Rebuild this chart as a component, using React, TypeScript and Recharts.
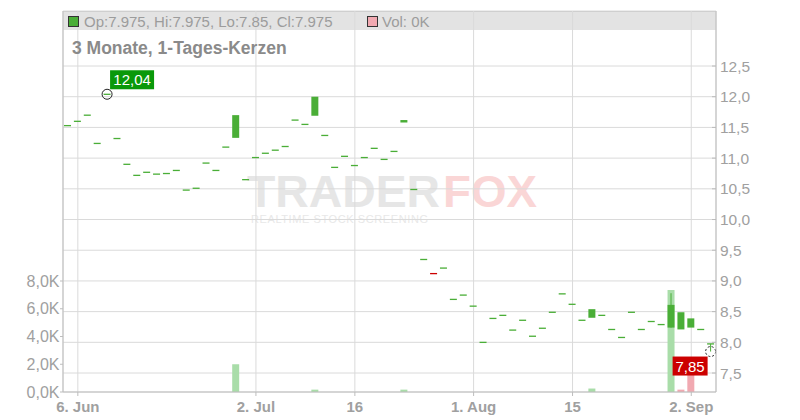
import React from "react"
import { ComposedChart, Bar, Cell, XAxis, YAxis, CartesianGrid } from "recharts"

// trading days shown on the chart
const dates = [
  "2024-06-05", "2024-06-06", "2024-06-07", "2024-06-10", "2024-06-11", "2024-06-12", "2024-06-13", "2024-06-14",
  "2024-06-17", "2024-06-18", "2024-06-19", "2024-06-20", "2024-06-21", "2024-06-24", "2024-06-25", "2024-06-26",
  "2024-06-27", "2024-06-28", "2024-07-01", "2024-07-02", "2024-07-03", "2024-07-04", "2024-07-05", "2024-07-08",
  "2024-07-09", "2024-07-10", "2024-07-11", "2024-07-12", "2024-07-15", "2024-07-16", "2024-07-17", "2024-07-18",
  "2024-07-19", "2024-07-22", "2024-07-23", "2024-07-24", "2024-07-25", "2024-07-26", "2024-07-29", "2024-07-30",
  "2024-07-31", "2024-08-01", "2024-08-02", "2024-08-05", "2024-08-06", "2024-08-07", "2024-08-08", "2024-08-09",
  "2024-08-12", "2024-08-13", "2024-08-14", "2024-08-15", "2024-08-16", "2024-08-19", "2024-08-20", "2024-08-21",
  "2024-08-22", "2024-08-23", "2024-08-26", "2024-08-27", "2024-08-28", "2024-08-29", "2024-08-30", "2024-09-02",
  "2024-09-03", "2024-09-04",
]

const closes = [
  11.53, 11.6, 11.7, 11.24, 12.04, 11.32, 10.9, 10.72, 10.77, 10.74,
  10.75, 10.8, 10.48, 10.51, 10.92, 10.8, 11.18, 11.7, 10.65, 11.01,
  11.08, 11.13, 11.19, 11.62, 11.55, 12.0, 11.37, 10.85, 11.03, 10.88,
  11.01, 11.16, 10.98, 11.11, 11.62, 10.49, 9.35, 9.11, 9.21, 8.7,
  8.77, 8.59, 8.0, 8.39, 8.44, 8.2, 8.36, 8.1, 8.23, 8.49,
  8.79, 8.62, 8.36, 8.54, 8.44, 8.21, 8.08, 8.49, 8.21, 8.34,
  8.29, 8.61, 8.49, 8.39, 8.21, 7.975,
]

// [day index, open, high, low] where the day is not flat
const candleDays = [
  [17, 11.33, 11.7, 11.33],
  [25, 11.69, 12.0, 11.69],
  [34, 11.58, 11.62, 11.58],
  [37, 9.12, 9.12, 9.11],
  [53, 8.4, 8.54, 8.4],
  [61, 8.24, 8.8, 8.24],
  [62, 8.21, 8.49, 8.21],
  [63, 8.24, 8.39, 8.24],
  [65, 7.975, 7.975, 7.85],
]

// volume in thousands
const volumes = [
  0, 0, 0, 0, 0, 0, 0, 0, 0, 0,
  0, 0, 0, 0, 0, 0, 0, 2.0, 0, 0,
  0, 0, 0, 0, 0, 0.17, 0, 0, 0, 0,
  0, 0, 0, 0, 0.17, 0, 0, 0, 0, 0,
  0, 0, 0, 0, 0, 0, 0, 0, 0, 0,
  0, 0, 0, 0.25, 0, 0, 0, 0, 0, 0,
  0, 7.35, 0.17, 2.2, 0, 0,
]

const tickDates = ["2024-06-06", "2024-07-02", "2024-07-16", "2024-08-01", "2024-08-15", "2024-09-02"]
const tickLabels = ["6. Jun", "2. Jul", "16", "1. Aug", "15", "2. Sep"]
const priceTicks = [7.5, 8, 8.5, 9, 9.5, 10, 10.5, 11, 11.5, 12, 12.5]
const volTicks = [0, 2, 4, 6, 8]

const PRICE_MIN = 7.191
const PRICE_MAX = 13.396
const VOL_MAX = 27.46

const GREEN = "#4aae37"
const RED = "#cc0000"
const VOL_UP = "#a9dda9"
const VOL_DOWN = "#f1a9b1"
const LABEL = "#a0a0a0"
const FONT = "'Liberation Sans', Arial, sans-serif"

const data = dates.map((date, i) => {
  const c = candleDays.find((d) => d[0] === i)
  const close = closes[i]
  const open = c ? c[1] : close
  const high = c ? c[2] : close
  const low = c ? c[3] : close
  const prev = i > 0 ? closes[i - 1] : close
  return { date, i, open, high, low, close, vol: volumes[i], volUp: close >= prev }
})
const maxHigh = Math.max(...data.map((d) => d.high))
const minLow = Math.min(...data.map((d) => d.low))
const maxIdx = data.findIndex((d) => d.high === maxHigh)
const minIdx = data.findIndex((d) => d.low === minLow)
const tickIdx = tickDates.map((d) => dates.indexOf(d))

const fmt = (v: number, digits: number) => v.toFixed(digits).replace(".", ",")

function Candle(props: any) {
  const { x, y, width, height, payload: p } = props
  if (!p || !height) return null
  const k = height / (p.high - PRICE_MIN)
  const py = (v: number) => y + (p.high - v) * k
  const cx = x + width / 2
  const color = p.close < p.open ? RED : GREEN
  const top = py(Math.max(p.open, p.close))
  const bot = py(Math.min(p.open, p.close))
  const h = bot - top
  const hasWick = p.high > Math.max(p.open, p.close) || p.low < Math.min(p.open, p.close)
  return (
    <g>
      {hasWick && <line x1={cx} x2={cx} y1={py(p.high)} y2={py(p.low)} stroke={color} strokeWidth={1} />}
      {h < 1.3 ? (
        <rect x={x} y={top - 0.6} width={width} height={1.3} fill={color} />
      ) : (
        <rect x={x} y={top} width={width} height={h} fill={color} />
      )}
      {p.i === maxIdx && (
        <g>
          <circle cx={cx} cy={py(p.high)} r={5} fill="none" stroke="#222" strokeWidth={1} />
          <rect x={cx + 3} y={py(p.high) - 24} width={44} height={19} fill="#0a990a" />
          <text x={cx + 25} y={py(p.high) - 9} textAnchor="middle" fontSize={15} fill="#fff" fontFamily={FONT}>
            {fmt(p.high, 2)}
          </text>
        </g>
      )}
      {p.i === minIdx && (
        <g>
          <circle cx={cx} cy={py(p.low)} r={5} fill="none" stroke="#222" strokeWidth={1} strokeDasharray="2 2" />
          <rect x={cx - 38} y={py(p.low) + 5} width={35} height={19} fill={RED} />
          <text x={cx - 20.5} y={py(p.low) + 20} textAnchor="middle" fontSize={15} fill="#fff" fontFamily={FONT}>
            {fmt(p.low, 2)}
          </text>
        </g>
      )}
    </g>
  )
}

const PriceTick = ({ x, y, payload }: any) => (
  <g>
    <line x1={x - 8} x2={x - 4} y1={y} y2={y} stroke="#bbb" />
    <text x={x} y={y + 5.5} fontSize={15.5} fill={LABEL} fontFamily={FONT}>
      {fmt(payload.value, 1)}
    </text>
  </g>
)

const VolTick = ({ x, y, payload }: any) => (
  <text x={x - 0.5} y={y + 5.7} textAnchor="end" fontSize={16} fill={LABEL} fontFamily={FONT}>
    {fmt(payload.value, 1) + "K"}
  </text>
)

export default function App() {
  return (
    <div style={{ position: "absolute", left: 0, top: 0, width: 800, height: 420, fontFamily: FONT }}>
      <svg width={800} height={420} style={{ position: "absolute", left: 0, top: 0 }}>
        <rect x={63} y={11} width={653} height={19} fill="#e3e3e3" />
        <line x1={63} x2={716} y1={11.5} y2={11.5} stroke="#c4c4c4" />
        <text x={247} y={207} fontSize={45} fontWeight="bold" fill="#e6e6e6" fontFamily={FONT}
          textLength={193} lengthAdjust="spacingAndGlyphs">
          TRADER
        </text>
        <text x={443} y={207} fontSize={45} fontWeight="bold" fill="#fad6d6" fontFamily={FONT}
          textLength={94} lengthAdjust="spacingAndGlyphs">
          FOX
        </text>
        <text x={251} y={223} fontSize={11} fill="#e8e8e8" fontFamily={FONT}
          textLength={177} lengthAdjust="spacing">
          REALTIME STOCK SCREENING
        </text>
      </svg>
      <div style={{ position: "absolute", left: 0, top: 0 }}>
        <ComposedChart width={800} height={420} data={data} margin={{ top: 11, right: 0, bottom: 0, left: 0 }}>
          <XAxis
            xAxisId="num"
            dataKey="i"
            type="number"
            domain={[-0.5, 65.5]}
            ticks={tickIdx}
            interval={0}
            height={28}
            tickSize={4}
            tickMargin={5}
            stroke="#bdbdbd"
            tick={{ fontSize: 15, fontWeight: "bold", fill: LABEL }}
            tickFormatter={(v: number) => tickLabels[tickIdx.indexOf(v)] ?? ""}
          />
          <XAxis xAxisId="cv" dataKey="date" type="category" hide height={0} />
          <XAxis xAxisId="cp" dataKey="date" type="category" hide height={0} />
          <YAxis
            yAxisId="vol"
            orientation="left"
            width={63}
            type="number"
            domain={[0, VOL_MAX]}
            allowDataOverflow
            ticks={volTicks}
            interval={0}
            tickSize={3}
            tickMargin={0}
            stroke="#bdbdbd"
            tick={<VolTick />}
          />
          <YAxis
            yAxisId="price"
            orientation="right"
            width={84}
            type="number"
            domain={[PRICE_MIN, PRICE_MAX]}
            allowDataOverflow
            ticks={priceTicks}
            interval={0}
            tickSize={0}
            tickMargin={4}
            tickLine={false}
            stroke="#bdbdbd"
            tick={<PriceTick />}
          />
          <CartesianGrid xAxisId="num" yAxisId="price" stroke="#dadada" />
          <Bar xAxisId="cv" yAxisId="vol" dataKey="vol" barSize={7} isAnimationActive={false}>
            {data.map((d) => (
              <Cell key={d.date} fill={d.volUp ? VOL_UP : VOL_DOWN} />
            ))}
          </Bar>
          <Bar
            xAxisId="cp"
            yAxisId="price"
            dataKey={(d: any) => [PRICE_MIN, d.high]}
            barSize={7}
            shape={<Candle />}
            isAnimationActive={false}
          />
        </ComposedChart>
      </div>
      <svg width={800} height={420} style={{ position: "absolute", left: 0, top: 0, pointerEvents: "none" }}>
        <rect x={68.5} y={16.5} width={10} height={10} fill={GREEN} stroke="#333" />
        <text x={84} y={27} fontSize={15} fill="#9c9c9c" fontFamily={FONT}>
          Op:7.975, Hi:7.975, Lo:7.85, Cl:7.975
        </text>
        <rect x={367.5} y={16.5} width={10} height={10} fill={VOL_DOWN} stroke="#333" />
        <text x={382} y={27} fontSize={15} fill="#9c9c9c" fontFamily={FONT}>
          Vol: 0K
        </text>
        <text x={72} y={54} fontSize={17.5} fontWeight="bold" fill="#8a8a8a" fontFamily={FONT}>
          3 Monate, 1-Tages-Kerzen
        </text>
      </svg>
    </div>
  )
}
